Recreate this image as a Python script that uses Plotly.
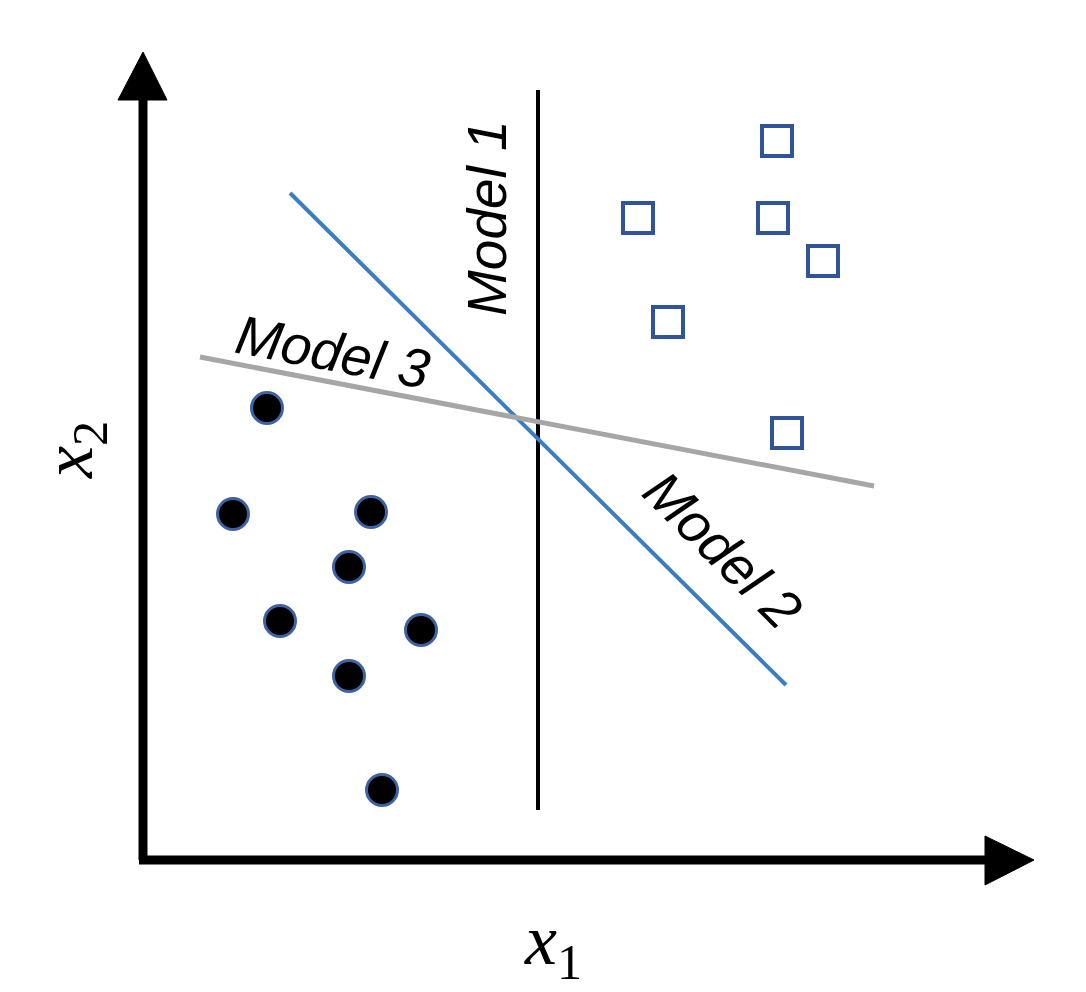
import plotly.graph_objects as go

# Coordinates: origin at the corner of the axes, x1 to the right, x2 upward (pixel-like units)
class_a_x = [124, 90, 228, 206, 137, 278, 206, 239]
class_a_y = [452, 346, 348, 293, 239, 230, 184, 70]

class_b_x = [634, 495, 630, 680, 525, 644]
class_b_y = [719, 642, 642, 599, 538, 427]

model1_x = [395, 395]
model1_y = [770, 50]
model2_x = [147, 643]
model2_y = [667, 175]
model3_x = [57, 731]
model3_y = [503, 374]

labels = ["Model 1", "Model 2", "Model 3"]

W, H = 1078, 984
OX, OY = 135, 852  # figure-pixel position of the axes corner

fig = go.Figure()

# axes with arrowheads
axis_w = 9
fig.add_shape(type="line", x0=0, y0=0, x1=0, y1=765, line=dict(color="black", width=axis_w))
fig.add_shape(type="line", x0=-4, y0=0, x1=845, y1=0, line=dict(color="black", width=axis_w))
fig.add_shape(type="path", path="M -25,760 L 24,760 L 0,808 Z", fillcolor="black", line=dict(color="black", width=1))
fig.add_shape(type="path", path="M 842,24 L 842,-25 L 891,0 Z", fillcolor="black", line=dict(color="black", width=1))

fig.add_trace(go.Scatter(x=model1_x, y=model1_y, mode="lines", line=dict(color="black", width=4), showlegend=False))
fig.add_trace(go.Scatter(x=model2_x, y=model2_y, mode="lines", line=dict(color="#3a7dc0", width=4), showlegend=False))
fig.add_trace(go.Scatter(x=model3_x, y=model3_y, mode="lines", line=dict(color="#a6a6a6", width=5), showlegend=False))

fig.add_trace(go.Scatter(x=class_a_x, y=class_a_y, mode="markers",
                         marker=dict(symbol="circle", size=31, color="black",
                                     line=dict(color="#3d63a6", width=3)),
                         showlegend=False))
fig.add_trace(go.Scatter(x=class_b_x, y=class_b_y, mode="markers",
                         marker=dict(symbol="square-open", size=30, color="#2f5597",
                                     line=dict(color="#2f5597", width=4)),
                         showlegend=False))

lab_font = dict(family="Liberation Sans, Arial", size=55, color="black")
fig.add_annotation(x=344, y=642, text="<i>" + labels[0] + "</i>", textangle=-90,
                   showarrow=False, font=lab_font)
fig.add_annotation(x=580, y=310, text="<i>" + labels[1] + "</i>", textangle=44.8,
                   showarrow=False, font=lab_font)
fig.add_annotation(x=190, y=508, text="<i>" + labels[2] + "</i>", textangle=10.8,
                   showarrow=False, font=lab_font)

math_font = dict(family="Liberation Serif, DejaVu Serif, serif", size=72, color="black")
fig.add_annotation(x=410, y=-85, text="<i>x</i><sub>1</sub>", showarrow=False, font=math_font)
fig.add_annotation(x=-70, y=410, text="<i>x</i><sub>2</sub>", textangle=-90, showarrow=False, font=math_font)

fig.update_layout(
    width=W, height=H,
    margin=dict(l=0, r=0, t=0, b=0),
    paper_bgcolor="white", plot_bgcolor="white",
    xaxis=dict(range=[-OX, W - OX], visible=False, fixedrange=True),
    yaxis=dict(range=[OY - H, OY], visible=False, fixedrange=True),
)

fig.write_html("out.html")
